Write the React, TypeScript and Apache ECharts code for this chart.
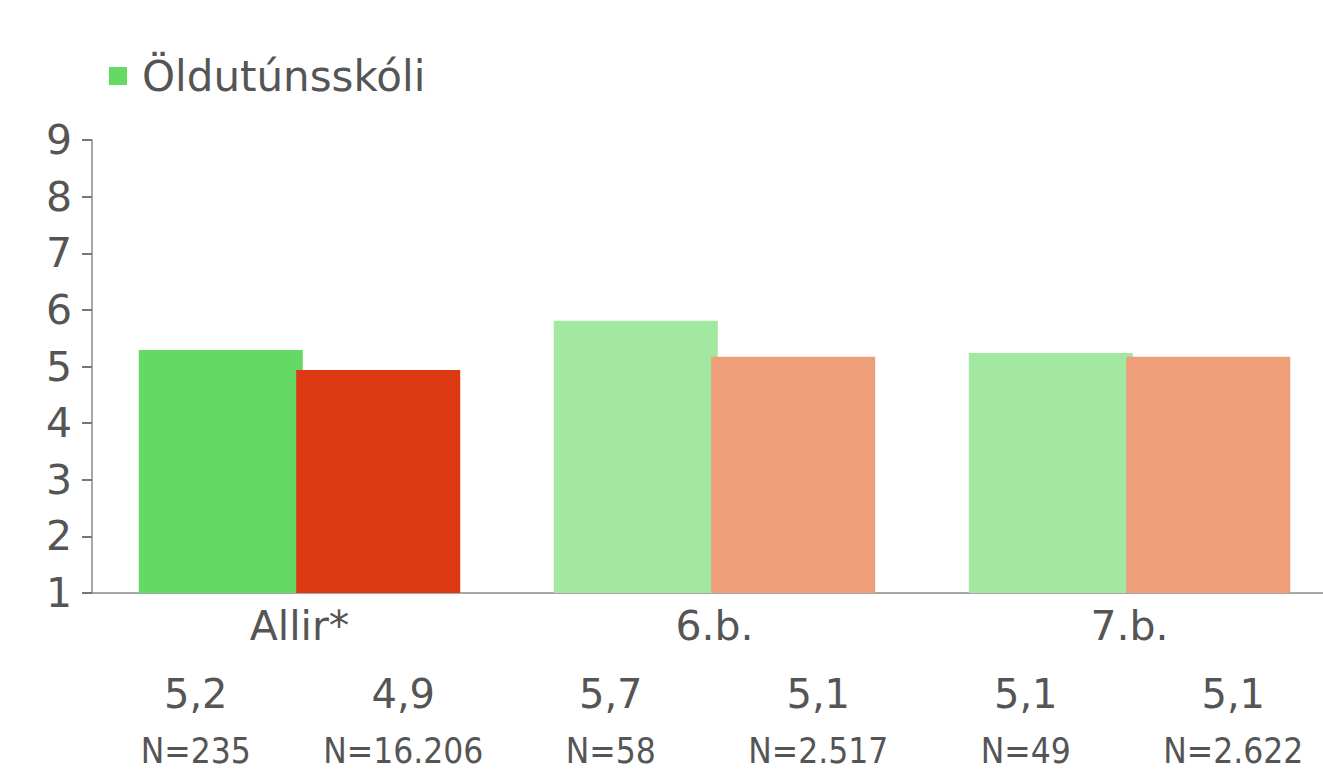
import React, { useEffect, useRef } from "react";
import * as echarts from "echarts";

const categories = ["Allir*", "6.b.", "7.b."];
const schoolValues = [5.29, 5.81, 5.24];
const nationalValues = [4.94, 5.17, 5.17];
const schoolColors = ["#64d964", "#a3e8a0", "#a3e8a0"];
const nationalColors = ["#dc3912", "#ee9e78", "#ee9e78"];
const valueLabels = ["5,2", "4,9", "5,7", "5,1", "5,1", "5,1"];
const countLabels = ["N=235", "N=16.206", "N=58", "N=2.517", "N=49", "N=2.622"];
const yTicks = [1, 9, 1];

const FONT = "DejaVu Sans";
const COND = "'DejaVu Sans Condensed', 'DejaVu Sans'";
const TXT = "#555555";

export default function App() {
  const ref = useRef<HTMLDivElement>(null);
  useEffect(() => {
    if (!ref.current) return;
    const chart = echarts.init(ref.current, null, { renderer: "svg" });
    chart.setOption({
      animation: false,
      backgroundColor: "#ffffff",
      textStyle: { fontFamily: FONT },
      legend: {
        data: ["Öldutúnsskóli"],
        left: 104,
        top: 50,
        icon: "rect",
        itemWidth: 18,
        itemHeight: 18,
        itemGap: 10,
        textStyle: { fontSize: 42, color: TXT, fontFamily: FONT, padding: [0, 0, 0, 10] },
      },
      grid: { left: 92, top: 140, width: 1245, height: 453, outerBoundsMode: "none", containLabel: false },
      xAxis: [
        {
          type: "category",
          data: categories,
          position: "bottom",
          axisLine: { show: true, lineStyle: { color: "#8a8a8a", width: 1.5 } },
          axisTick: { show: false },
          axisLabel: { fontSize: 41, color: TXT, margin: 12, fontFamily: FONT },
        },
        {
          type: "category",
          data: valueLabels.map((v, i) => v + "|" + countLabels[i]),
          position: "bottom",
          axisLine: { show: false },
          axisTick: { show: false },
          axisLabel: {
            margin: 63,
            interval: 0,
            formatter: (s: string) => {
              const [v, n] = s.split("|");
              return "{v|" + v + "}\n{n|" + n + "}";
            },
            rich: {
              v: { fontSize: 40, color: TXT, lineHeight: 76, fontFamily: FONT },
              n: { fontSize: 35, color: TXT, lineHeight: 38, fontFamily: COND },
            },
          },
        },
      ],
      yAxis: {
        type: "value",
        min: yTicks[0],
        max: yTicks[1],
        interval: yTicks[2],
        splitLine: { show: false },
        axisLine: { show: true, lineStyle: { color: "#8a8a8a", width: 1.5 } },
        axisTick: { show: true, length: 10, lineStyle: { color: "#777777", width: 2 } },
        axisLabel: { fontSize: 41, color: TXT, margin: 20, fontFamily: FONT },
      },
      series: [
        {
          name: "Öldutúnsskóli",
          type: "bar",
          xAxisIndex: 0,
          barWidth: 164,
          barGap: "-4%",
          clip: true,
          itemStyle: { color: schoolColors[0] },
          data: schoolValues.map((v, i) => ({ value: v, itemStyle: { color: schoolColors[i] } })),
        },
        {
          name: "Landið",
          type: "bar",
          xAxisIndex: 0,
          barWidth: 164,
          barGap: "-4%",
          clip: true,
          itemStyle: { color: nationalColors[0] },
          data: nationalValues.map((v, i) => ({ value: v, itemStyle: { color: nationalColors[i] } })),
        },
      ],
    });
    return () => chart.dispose();
  }, []);
  return <div ref={ref} style={{ width: 1323, height: 773, position: "absolute", left: 0, top: 0 }} />;
}
